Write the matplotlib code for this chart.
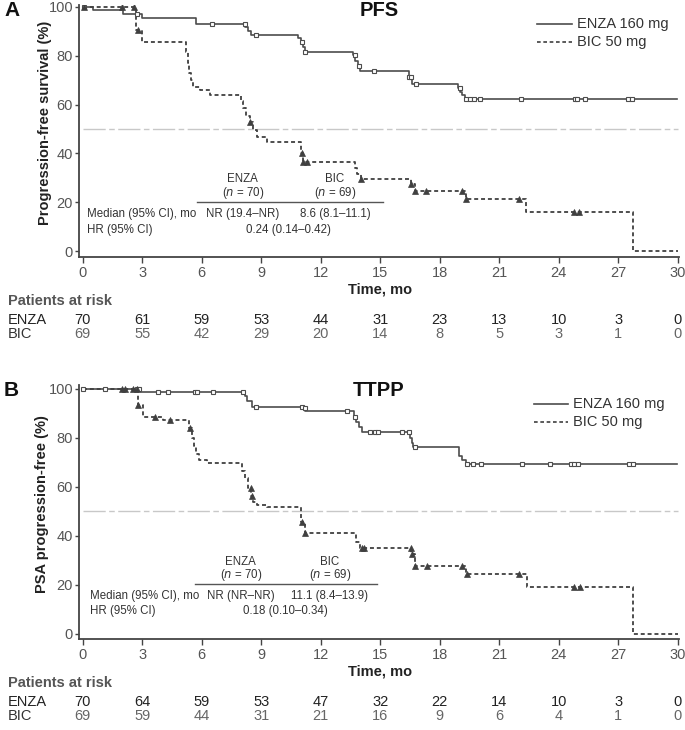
import numpy as np
import matplotlib
matplotlib.use("Agg")
import matplotlib.pyplot as plt
from matplotlib.transforms import blended_transform_factory
from matplotlib.lines import Line2D

plt.rcParams['font.family'] = ['Liberation Sans', 'DejaVu Sans']

# ---------------- data ----------------
time_ticks = [0, 3, 6, 9, 12, 15, 18, 21, 24, 27, 30]
y_ticks = [0, 20, 40, 60, 80, 100]

# PFS - ENZA (step times, survival %)
pfs_enza_t = [0, 0.53, 2.05, 2.97, 5.71, 8.2, 8.35, 8.47, 10.87, 11.0, 11.1, 11.2,
              13.65, 13.75, 13.9, 14.0, 16.45, 16.6, 18.94, 19.05, 19.15, 19.3]
pfs_enza_s = [100, 98.6, 97.1, 95.6, 93.2, 91.8, 90.3, 88.6, 87.1, 85.5, 83.6, 81.7,
              80.2, 78.0, 75.9, 73.8, 71.1, 68.3, 66.8, 65.2, 63.8, 62.3]
pfs_enza_end = 29.95
pfs_enza_cens = [0.05, 2.72, 6.5, 8.19, 8.72, 11.04, 11.22, 13.73, 13.95, 14.7, 16.45,
                 16.56, 16.79, 19.03, 19.31, 19.53, 19.74, 20.04, 22.1, 24.83, 24.93,
                 25.33, 27.51, 27.68]

# PFS - BIC
pfs_bic_t = [0, 2.69, 2.97, 5.22, 5.3, 5.38, 5.46, 5.55, 5.92, 6.42, 7.97, 8.1, 8.25,
             8.42, 8.6, 8.77, 9.28, 11.02, 11.1, 13.73, 13.85, 14.03, 16.55, 16.74,
             19.32, 22.36, 27.73]
pfs_bic_s = [100, 90.6, 85.8, 81.5, 77, 73, 70, 67.1, 65.9, 63.9, 61.5, 58.5, 55.5,
             53.0, 49.5, 46.8, 44.8, 40.2, 36.6, 34, 31.5, 29.5, 27.3, 24.7,
             21.2, 16.0, 0]
pfs_bic_end = 30.0
pfs_bic_cens = [0.05, 1.96, 2.6, 2.77, 8.44, 11.04, 11.12, 11.3, 14.05, 16.56, 16.76,
                17.31, 19.11, 19.33, 21.99, 24.78, 25.04]

# TTPP - ENZA
ttpp_enza_t = [0, 2.94, 8.18, 8.3, 8.52, 11.1, 11.21, 13.7, 13.8, 13.95, 14.07,
               16.5, 16.6, 16.67, 18.99, 19.15, 19.33]
ttpp_enza_s = [100, 98.6, 97.0, 95.0, 92.8, 92.0, 91.1, 88.7, 86.5, 84.6, 82.3,
               79.8, 78.0, 76.2, 72.6, 71.0, 69.3]
ttpp_enza_end = 29.95
ttpp_enza_cens = [0.03, 1.12, 2.72, 2.85, 3.81, 4.28, 5.66, 5.78, 6.59, 8.1, 8.74,
                  11.04, 11.2, 13.31, 13.75, 14.5, 14.75, 14.9, 16.08, 16.45, 16.76,
                  19.36, 19.7, 20.07, 22.14, 23.57, 24.61, 24.79, 24.99, 27.56, 27.77]

# TTPP - BIC
ttpp_bic_t = [0, 2.77, 3.03, 4.07, 5.35, 5.5, 5.6, 5.7, 5.85, 6.25, 8.02, 8.2, 8.35,
              8.5, 8.6, 8.77, 9.28, 11.02, 11.19, 13.78, 14.0, 16.58, 16.74, 19.32,
              22.39, 27.77]
ttpp_bic_s = [100, 93.5, 88.7, 87.3, 83.9, 80, 76.5, 73.5, 71.0, 69.6, 66.5, 63.5,
              59.7, 56.3, 54, 52.6, 51.6, 45.8, 41.0, 37.5, 34.9, 32.4, 27.7, 24.3,
              19.2, 0]
ttpp_bic_end = 30.0
ttpp_bic_cens = [1.96, 2.13, 2.55, 2.72, 2.8, 3.65, 4.4, 5.41, 8.47, 8.52, 11.04,
                 11.21, 14.07, 14.2, 16.56, 16.6, 16.76, 17.35, 19.14, 19.36, 22.0,
                 24.79, 25.08]

# risk tables
pfs_risk_enza = [70, 61, 59, 53, 44, 31, 23, 13, 10, 3, 0]
pfs_risk_bic = [69, 55, 42, 29, 20, 14, 8, 5, 3, 1, 0]
ttpp_risk_enza = [70, 64, 59, 53, 47, 32, 22, 14, 10, 3, 0]
ttpp_risk_bic = [69, 59, 44, 31, 21, 16, 9, 6, 4, 1, 0]

pfs_stats = {"enza_median": "NR (19.4\u2013NR)", "bic_median": "8.6 (8.1\u201311.1)",
             "hr": "0.24 (0.14\u20130.42)"}
ttpp_stats = {"enza_median": "NR (NR\u2013NR)", "bic_median": "11.1 (8.4\u201313.9)",
              "hr": "0.18 (0.10\u20130.34)"}

# ---------------- figure ----------------
W, H = 685, 730
fig = plt.figure(figsize=(W / 100, H / 100), dpi=100)


def fx(px):
    return px / W


def fy(py):
    return 1 - py / H


LINE_C = "#4d4d4d"
DOT_C = "#404040"
TXT_C = "#333333"
TICK_C = "#555555"
FS_TAB = 8.3


def step_val(t, s, x):
    t = np.asarray(t)
    s = np.asarray(s)
    idx = np.searchsorted(t, np.asarray(x), side='right') - 1
    return s[idx]


def panel(top_px, bottom_px, ylim, letter, title, ylabel,
          e_t, e_s, e_end, e_c, b_t, b_s, b_end, b_c,
          risk_e, risk_b, stats, tab):
    left_px, right_px = 79.3, 679.0
    ax = fig.add_axes([fx(left_px), fy(bottom_px), fx(right_px - left_px),
                       (bottom_px - top_px) / H])
    ax.set_xlim(-0.17, 30.07)
    ax.set_ylim(*ylim)
    for sp in ['top', 'right']:
        ax.spines[sp].set_visible(False)
    for sp in ['left', 'bottom']:
        ax.spines[sp].set_linewidth(1.3)
        ax.spines[sp].set_color("#444444")
    ax.set_xticks(time_ticks)
    ax.set_yticks(y_ticks)
    ax.tick_params(axis='x', length=4, width=1, colors="#444444", labelcolor=TICK_C,
                   labelsize=10.5, pad=2)
    ax.tick_params(axis='y', length=3, width=1, colors="#444444", labelcolor=TICK_C,
                   labelsize=10.5, pad=1.5)

    # median reference line
    ax.plot([0, 30], [50, 50], color="#c8c8c8", lw=1.0,
            linestyle=(0, (16, 2.5, 4, 2.5)), zorder=1)

    # curves
    ax.step(list(e_t) + [e_end], list(e_s) + [e_s[-1]], where='post',
            color=LINE_C, lw=1.2, zorder=3)
    ax.step(list(b_t) + [b_end], list(b_s) + [b_s[-1]], where='post',
            color=DOT_C, lw=1.3, linestyle=(0, (2.2, 1.6)), zorder=3)

    # censor marks
    ax.plot(e_c, step_val(e_t, e_s, e_c), linestyle='none', marker='s', ms=3.2,
            mfc='white', mec=LINE_C, mew=0.8, zorder=4)
    ax.plot(b_c, step_val(b_t, b_s, b_c), linestyle='none', marker='^', ms=4.6,
            mfc=DOT_C, mec=DOT_C, mew=0.5, zorder=4)

    # inner stats table
    ax.text(tab['enza_x'], tab['hdr_y'], "ENZA", ha='center', va='center',
            fontsize=FS_TAB, color=TXT_C)
    ax.text(tab['enza_x'], tab['n_y'], "($\\it{n}$ = 70)", ha='center', va='center',
            fontsize=FS_TAB, color=TXT_C)
    ax.text(tab['bic_x'], tab['hdr_y'], "BIC", ha='center', va='center',
            fontsize=FS_TAB, color=TXT_C)
    ax.text(tab['bic_x'], tab['n_y'], "($\\it{n}$ = 69)", ha='center', va='center',
            fontsize=FS_TAB, color=TXT_C)
    ax.plot(tab['line_x'], [tab['line_y'], tab['line_y']], color="#555555", lw=1.0)
    ax.text(tab['lab_x'], tab['med_y'], "Median (95% CI), mo", ha='left', va='center',
            fontsize=FS_TAB, color=TXT_C)
    ax.text(tab['enza_x'], tab['med_y'], stats['enza_median'], ha='center',
            va='center', fontsize=FS_TAB, color=TXT_C)
    ax.text(tab['bic_x'], tab['med_y'], stats['bic_median'], ha='center',
            va='center', fontsize=FS_TAB, color=TXT_C)
    ax.text(tab['lab_x'], tab['hr_y'], "HR (95% CI)", ha='left', va='center',
            fontsize=FS_TAB, color=TXT_C)
    ax.text(tab['hr_x'], tab['hr_y'], stats['hr'], ha='center', va='center',
            fontsize=FS_TAB, color=TXT_C)

    # labels
    fig.text(fx(tab['ylab_x']), fy((top_px + bottom_px) / 2 - 8), ylabel, rotation=90,
             ha='center', va='center', fontsize=10.5, fontweight='bold', color="#222222")
    fig.text(fx(380), fy(bottom_px + 32), "Time, mo", ha='center', va='center',
             fontsize=10.5, fontweight='bold', color="#222222")
    fig.text(fx(4), fy(top_px + 5), letter, ha='left', va='center', fontsize=15,
             fontweight='bold', color="#111111")
    fig.text(fx(379), fy(top_px + 5), title, ha='center', va='center', fontsize=14.5,
             fontweight='bold', color="#111111")

    # legend
    lx0, lx1 = tab['leg_x0'], tab['leg_x1']
    for i, (lab, ls, col) in enumerate([("ENZA 160 mg", '-', LINE_C),
                                         ("BIC 50 mg", (0, (2.2, 1.6)), DOT_C)]):
        yy = fy(tab['leg_y'][i])
        fig.add_artist(Line2D([fx(lx0), fx(lx1)], [yy, yy], transform=fig.transFigure,
                              color=col, lw=1.2, linestyle=ls))
        fig.text(fx(lx1 + 5), yy, lab, ha='left', va='center', fontsize=10.5,
                 color=TXT_C)

    # risk table
    tr = blended_transform_factory(ax.transData, fig.transFigure)
    fig.text(fx(8), fy(bottom_px + 44), "Patients at risk", ha='left', va='center',
             fontsize=10.5, fontweight='bold', color="#555555")
    fig.text(fx(8), fy(bottom_px + 63), "ENZA", ha='left', va='center', fontsize=10.5,
             color="#222222")
    fig.text(fx(8), fy(bottom_px + 77), "BIC", ha='left', va='center', fontsize=10.5,
             color="#333333")
    for tt, ve, vb in zip(time_ticks, risk_e, risk_b):
        ax.text(tt, fy(bottom_px + 63), str(ve), transform=tr, ha='center',
                va='center', fontsize=10.5, color="#222222", clip_on=False)
        ax.text(tt, fy(bottom_px + 77), str(vb), transform=tr, ha='center',
                va='center', fontsize=10.5, color="#666666", clip_on=False)
    return ax


tabA = dict(enza_x=8.07, bic_x=12.72, hdr_y=29.4, n_y=23.9, line_x=[5.75, 15.13],
            line_y=20.0, lab_x=0.23, med_y=15.0, hr_y=8.6, hr_x=10.37, ylab_x=45,
            leg_x0=536.7, leg_x1=571.7, leg_y=[24, 42.3])
tabB = dict(enza_x=7.97, bic_x=12.47, hdr_y=29.2, n_y=24.0, line_x=[5.66, 14.83],
            line_y=20.3, lab_x=0.37, med_y=15.3, hr_y=9.3, hr_x=10.2, ylab_x=42,
            leg_x0=534.0, leg_x1=568.3, leg_y=[404.3, 421.7])

panel(5, 257.3, (-2.58, 100.8), "A", "PFS", "Progression-free survival (%)",
      pfs_enza_t, pfs_enza_s, pfs_enza_end, pfs_enza_cens,
      pfs_bic_t, pfs_bic_s, pfs_bic_end, pfs_bic_cens,
      pfs_risk_enza, pfs_risk_bic, pfs_stats, tabA)
panel(385, 639.3, (-2.29, 101.6), "B", "TTPP", "PSA progression-free (%)",
      ttpp_enza_t, ttpp_enza_s, ttpp_enza_end, ttpp_enza_cens,
      ttpp_bic_t, ttpp_bic_s, ttpp_bic_end, ttpp_bic_cens,
      ttpp_risk_enza, ttpp_risk_bic, ttpp_stats, tabB)

fig.savefig("out.png", dpi=100)
